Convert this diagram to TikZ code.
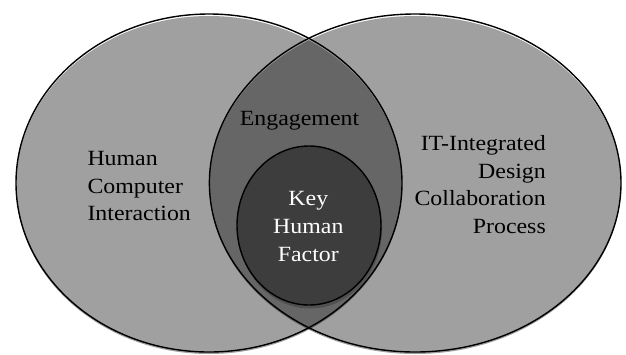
\documentclass[tikz,border=0pt]{standalone}
\usepackage{fontspec}
\setmainfont{Liberation Serif}[FakeStretch=1.1]
\begin{document}
\begin{tikzpicture}[x=1pt,y=-1pt,
  outline/.style={draw=black,line width=1.4pt},
  label/.style={inner sep=0pt,font=\fontsize{21.7}{27.8}\selectfont}]
\definecolor{outergray}{HTML}{A0A0A0}
\definecolor{lensgray}{HTML}{666666}
\definecolor{innergray}{HTML}{3D3D3D}
\definecolor{shadegray}{HTML}{505050}
\useasboundingbox (0,0) rectangle (626,354);

% centres of the two sets and of the core
\coordinate (lc) at (209,183);
\coordinate (rc) at (415.2,183);
\coordinate (kc) at (309,225.5);

% fills, set slightly below their outlines
\fill[outergray] ([yshift=-2pt]lc) ellipse [x radius=193pt, y radius=169pt];
\fill[outergray] ([yshift=-2pt]rc) ellipse [x radius=205.8pt, y radius=169pt];
\begin{scope}
  \clip ([yshift=-2pt]lc) ellipse [x radius=193pt, y radius=169pt];
  \fill[lensgray] ([yshift=-2pt]rc) ellipse [x radius=205.8pt, y radius=169pt];
\end{scope}

% outlines
\draw[outline] (lc) ellipse [x radius=193pt, y radius=169pt];
\draw[outline] (rc) ellipse [x radius=205.8pt, y radius=169pt];

% core circle with its shadow
\fill[shadegray] ([xshift=1pt,yshift=-3.5pt]kc) ellipse [x radius=72pt, y radius=79.5pt];
\filldraw[fill=innergray,outline] (kc) ellipse [x radius=72pt, y radius=79.5pt];

% labels
\node[label,anchor=west,align=left] (hci) at (87.3,186)
  {Human\\Computer\\Interaction};
\node[label,anchor=east,align=right] (itd) at (546,184.6)
  {IT-Integrated\\Design\\Collaboration\\Process};
\node[label,anchor=base] (eng) at (299.5,125) {Engagement};
\node[label,align=center,text=white] (khf) at (308.3,226.5)
  {Key\\Human\\Factor};
\end{tikzpicture}
\end{document}
